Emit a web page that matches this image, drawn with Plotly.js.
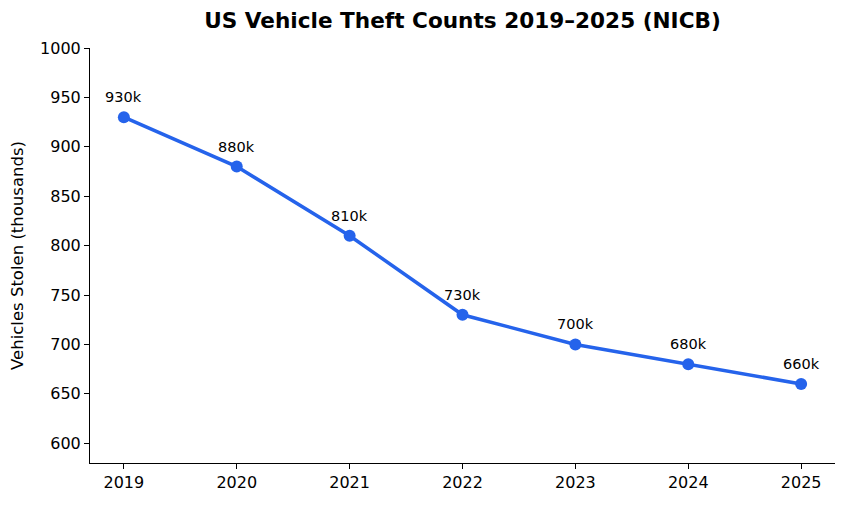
<!DOCTYPE html>
<html>
<head>
<meta charset="utf-8">
<script src="https://cdn.plot.ly/plotly-3.0.1.min.js"></script>
<style>body{margin:0;background:#fff}#chart{width:846px;height:505px}</style>
</head>
<body>
<div id="chart"></div>
<script>
// NICB counts, thousands
var years = [2019, 2020, 2021, 2022, 2023, 2024, 2025];
var stolen = [930, 880, 810, 730, 700, 680, 660];
var labels = ["930k", "880k", "810k", "730k", "700k", "680k", "660k"];

var blue = "#2563eb";

var trace = {
    x: years,
    y: stolen,
    type: "scatter",
    mode: "lines+markers",
    line: { color: blue, width: 3.5 },
    marker: { color: blue, size: 12 },
    hoverinfo: "skip",
};

var notes = [];
for (let i = 0; i < years.length; i++) {
    notes.push({
        x: years[i],
        y: stolen[i],
        text: labels[i],
        showarrow: false,
        yshift: 20,
        font: { size: 14.5, color: "#000" },
    });
}

var layout = {
    width: 846,
    height: 505,
    margin: { l: 90, r: 11, t: 48, b: 42 },
    paper_bgcolor: "#fff",
    plot_bgcolor: "#fff",
    font: { family: "DejaVu Sans", color: "#000", size: 16 },
    showlegend: false,
    title: {
        text: "<b>US Vehicle Theft Counts 2019–2025 (NICB)</b>",
        font: { size: 21.6, family: "DejaVu Sans" },
        xref: "paper",
        x: 0.5,
        xanchor: "center",
        y: 0.96,
        yanchor: "middle",
    },
    xaxis: {
        range: [2018.7, 2025.3],
        tickvals: years,
        ticktext: years.map(String),
        showgrid: false,
        zeroline: false,
        showline: true,
        linecolor: "#000",
        linewidth: 1,
        ticks: "outside",
        ticklen: 5,
        tickcolor: "#000",
        tickfont: { size: 16 },
    },
    yaxis: {
        range: [580, 1000],
        tickvals: [600, 650, 700, 750, 800, 850, 900, 950, 1000],
        showgrid: false,
        zeroline: false,
        showline: true,
        linecolor: "#000",
        linewidth: 1,
        ticks: "outside",
        ticklen: 5,
        tickcolor: "#000",
        tickfont: { size: 16 },
        title: { text: "Vehicles Stolen (thousands)", font: { size: 16.5 }, standoff: 12 },
    },
    annotations: notes,
};

Plotly.newPlot("chart", [trace], layout, { displayModeBar: false, staticPlot: true });
</script>
</body>
</html>
